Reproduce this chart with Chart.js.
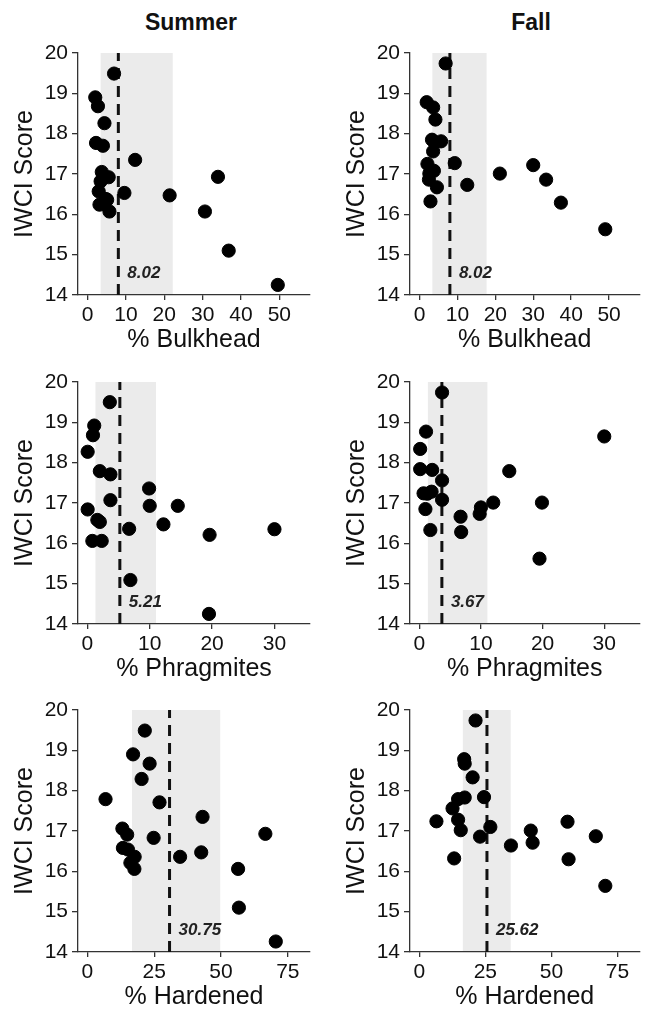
<!DOCTYPE html>
<html>
<head>
<meta charset="utf-8">
<script src="https://cdn.jsdelivr.net/npm/chart.js@4.4.1/dist/chart.umd.min.js"></script>
<style>
  body { margin: 0; background: #fff; width: 647px; height: 1011px; position: relative; overflow: hidden;
         font-family: "Liberation Sans", Arial, sans-serif; }
  .box { position: absolute; }
  .col-title { position: absolute; top: 8px; width: 200px; text-align: center;
               font-weight: bold; font-size: 23px; line-height: 28px; color: #111; }
</style>
</head>
<body>
<div class="col-title" style="left:91px">Summer</div>
<div class="col-title" style="left:431px">Fall</div>

<div class="box" style="left:0;top:33px;width:323px;height:322px"><canvas id="c1"></canvas></div>
<div class="box" style="left:332px;top:33px;width:315px;height:322px"><canvas id="c2"></canvas></div>
<div class="box" style="left:0;top:362px;width:323px;height:322px"><canvas id="c3"></canvas></div>
<div class="box" style="left:332px;top:362px;width:315px;height:322px"><canvas id="c4"></canvas></div>
<div class="box" style="left:0;top:690px;width:323px;height:322px"><canvas id="c5"></canvas></div>
<div class="box" style="left:332px;top:690px;width:315px;height:322px"><canvas id="c6"></canvas></div>

<script>
// --- data ---
const yTicks = [14, 15, 16, 17, 18, 19, 20];
const bulkheadTicks = [0, 10, 20, 30, 40, 50];
const phragTicks = [0, 10, 20, 30];
const hardenedTicks = [0, 25, 50, 75];

// summer
const summerBulkheadX = [6.9, 2.0, 2.7, 4.4, 2.2, 4.0, 12.4, 3.7, 5.5, 3.4, 2.9, 9.6, 5.1, 4.8, 3.1, 5.7, 21.4, 34.0, 30.6, 36.8, 49.6];
const summerBulkheadY = [19.49, 18.90, 18.68, 18.26, 17.77, 17.70, 17.35, 17.05, 16.92, 16.82, 16.57, 16.53, 16.36, 16.38, 16.24, 16.07, 16.47, 16.93, 16.07, 15.10, 14.25];

const summerPhragX = [3.6, 1.1, 0.9, 0.05, 2.0, 3.7, 9.9, 3.7, 10.0, 14.5, 0.05, 1.6, 2.0, 12.2, 6.7, 30.0, 19.6, 0.8, 2.3, 6.9, 19.5];
const summerPhragY = [19.50, 18.92, 18.68, 18.27, 17.79, 17.71, 17.36, 17.07, 16.93, 16.93, 16.84, 16.58, 16.53, 16.47, 16.36, 16.35, 16.21, 16.06, 16.06, 15.09, 14.25];

const summerHardX = [21.5, 17.1, 23.3, 20.3, 6.8, 27.0, 43.1, 13.1, 14.9, 24.8, 66.6, 13.3, 15.2, 42.6, 34.7, 17.7, 16.1, 17.6, 56.4, 56.7, 70.5];
const summerHardY = [19.49, 18.90, 18.67, 18.29, 17.79, 17.71, 17.35, 17.06, 16.91, 16.83, 16.93, 16.58, 16.54, 16.47, 16.36, 16.36, 16.21, 16.06, 16.06, 15.10, 14.26];

// fall
const fallBulkheadX = [6.9, 1.9, 3.6, 4.2, 3.3, 5.7, 4.0, 3.6, 9.3, 2.1, 3.8, 2.6, 2.5, 4.6, 2.9, 12.6, 21.2, 30.0, 33.4, 37.3, 49.0];
const fallBulkheadY = [19.74, 18.78, 18.65, 18.35, 17.85, 17.81, 17.79, 17.56, 17.27, 17.25, 17.08, 17.01, 16.86, 16.67, 16.32, 16.73, 17.01, 17.22, 16.86, 16.29, 15.63];

const fallPhragX = [3.7, 1.1, 30.0, 0.15, 0.15, 2.1, 14.6, 3.7, 0.7, 2.0, 1.3, 3.7, 12.0, 19.9, 1.0, 10.0, 9.8, 6.7, 1.8, 6.8, 19.5];
const fallPhragY = [19.74, 18.77, 18.65, 18.34, 17.84, 17.82, 17.79, 17.56, 17.24, 17.28, 17.23, 17.08, 17.01, 17.01, 16.85, 16.89, 16.73, 16.66, 16.33, 16.28, 15.62];

const fallHardX = [21.3, 17.0, 17.2, 20.2, 14.7, 17.2, 24.5, 12.6, 6.5, 14.7, 15.7, 26.9, 23.0, 13.2, 34.7, 42.2, 42.9, 56.1, 56.5, 66.8, 70.4];
const fallHardY = [19.74, 18.78, 18.67, 18.33, 17.79, 17.83, 17.84, 17.56, 17.24, 17.28, 17.02, 17.10, 16.86, 16.32, 16.64, 17.01, 16.71, 17.23, 16.30, 16.87, 15.64];

// thresholds and shaded ranges, panel order: summer/fall bulkhead, summer/fall phragmites, summer/fall hardened
const thresholds = [8.02, 8.02, 5.21, 3.67, 30.75, 25.62];
const bandLow = [3.4, 3.4, 1.3, 1.4, 16.7, 16.5];
const bandHigh = [22.2, 17.7, 11.0, 11.05, 49.7, 34.6];

const FONT = '"Liberation Sans", Arial, sans-serif';
const AXIS = '#333';

// grey band + threshold label
const thresholdPlugin = {
    id: 'threshold',
    beforeDatasetsDraw(chart, args, opts) {
        const { ctx, chartArea, scales: { x } } = chart;
        const x0 = x.getPixelForValue(opts.lo);
        const x1 = x.getPixelForValue(opts.hi);
        ctx.save();
        ctx.fillStyle = '#ebebeb';
        ctx.fillRect(x0, chartArea.top, x1 - x0, chartArea.bottom - chartArea.top - 1);
        ctx.restore();
    },
    afterDatasetsDraw(chart, args, opts) {
        const { ctx, scales: { x, y } } = chart;
        ctx.save();
        ctx.font = 'italic bold 17px ' + FONT;
        ctx.fillStyle = '#222';
        ctx.textBaseline = 'middle';
        ctx.fillText(opts.value.toFixed(2), x.getPixelForValue(opts.value) + 9, y.getPixelForValue(14.55));
        ctx.restore();
    }
};

function makePanel(id, xs, ys, idx, xTicks, xMin, xMax, xTitle, padRight) {
    const pts = xs.map((v, i) => ({ x: v, y: ys[i] }));
    const t = thresholds[idx];
    new Chart(document.getElementById(id), {
        type: 'scatter',
        data: {
            datasets: [
                {
                    type: 'line',
                    data: [{ x: t, y: 14 }, { x: t, y: 20 }],
                    borderColor: '#111',
                    borderWidth: 3,
                    borderDash: [11, 7],
                    pointRadius: 0,
                    order: 2
                },
                {
                    data: pts,
                    backgroundColor: '#000',
                    borderColor: '#000',
                    pointRadius: 6.6,
                    order: 1
                }
            ]
        },
        options: {
            responsive: true,
            maintainAspectRatio: false,
            animation: false,
            layout: { padding: { top: 20, left: 0, right: padRight, bottom: 0 } },
            plugins: {
                legend: { display: false },
                tooltip: { enabled: false },
                threshold: { value: t, lo: bandLow[idx], hi: bandHigh[idx] }
            },
            scales: {
                x: {
                    type: 'linear',
                    min: xMin,
                    max: xMax,
                    afterBuildTicks: s => { s.ticks = xTicks.map(v => ({ value: v })); },
                    afterFit: s => { s.height = 60; },
                    ticks: { color: '#111', padding: 3, maxRotation: 0, font: { family: FONT, size: 21 } },
                    grid: { drawOnChartArea: false, drawTicks: true, tickLength: 5, color: AXIS, lineWidth: 1.3 },
                    border: { display: true, color: AXIS, width: 1.3 },
                    title: { display: true, text: xTitle, color: '#111', padding: { top: 0, bottom: 0 },
                             font: { family: FONT, size: 25 } }
                },
                y: {
                    type: 'linear',
                    min: 14,
                    max: 20,
                    afterBuildTicks: s => { s.ticks = yTicks.map(v => ({ value: v })); },
                    afterFit: s => { s.width = 78; },
                    ticks: { color: '#111', padding: 4, font: { family: FONT, size: 21 } },
                    grid: { drawOnChartArea: false, drawTicks: true, tickLength: 6, color: AXIS, lineWidth: 1.3 },
                    border: { display: true, color: AXIS, width: 1.3 },
                    title: { display: true, text: 'IWCI Score', color: '#111', padding: { top: 10, bottom: 0 },
                             font: { family: FONT, size: 25 } }
                }
            }
        },
        plugins: [thresholdPlugin]
    });
}

makePanel('c1', summerBulkheadX, summerBulkheadY, 0, bulkheadTicks, -2.5, 58, '% Bulkhead', 13);
makePanel('c2', fallBulkheadX, fallBulkheadY, 1, bulkheadTicks, -2.5, 58, '% Bulkhead', 2);
makePanel('c3', summerPhragX, summerPhragY, 2, phragTicks, -1.5, 35.7, '% Phragmites', 13);
makePanel('c4', fallPhragX, fallPhragY, 3, phragTicks, -1.5, 35.7, '% Phragmites', 2);
makePanel('c5', summerHardX, summerHardY, 4, hardenedTicks, -3.5, 83.3, '% Hardened', 13);
makePanel('c6', fallHardX, fallHardY, 5, hardenedTicks, -3.5, 83.3, '% Hardened', 2);
</script>
</body>
</html>
